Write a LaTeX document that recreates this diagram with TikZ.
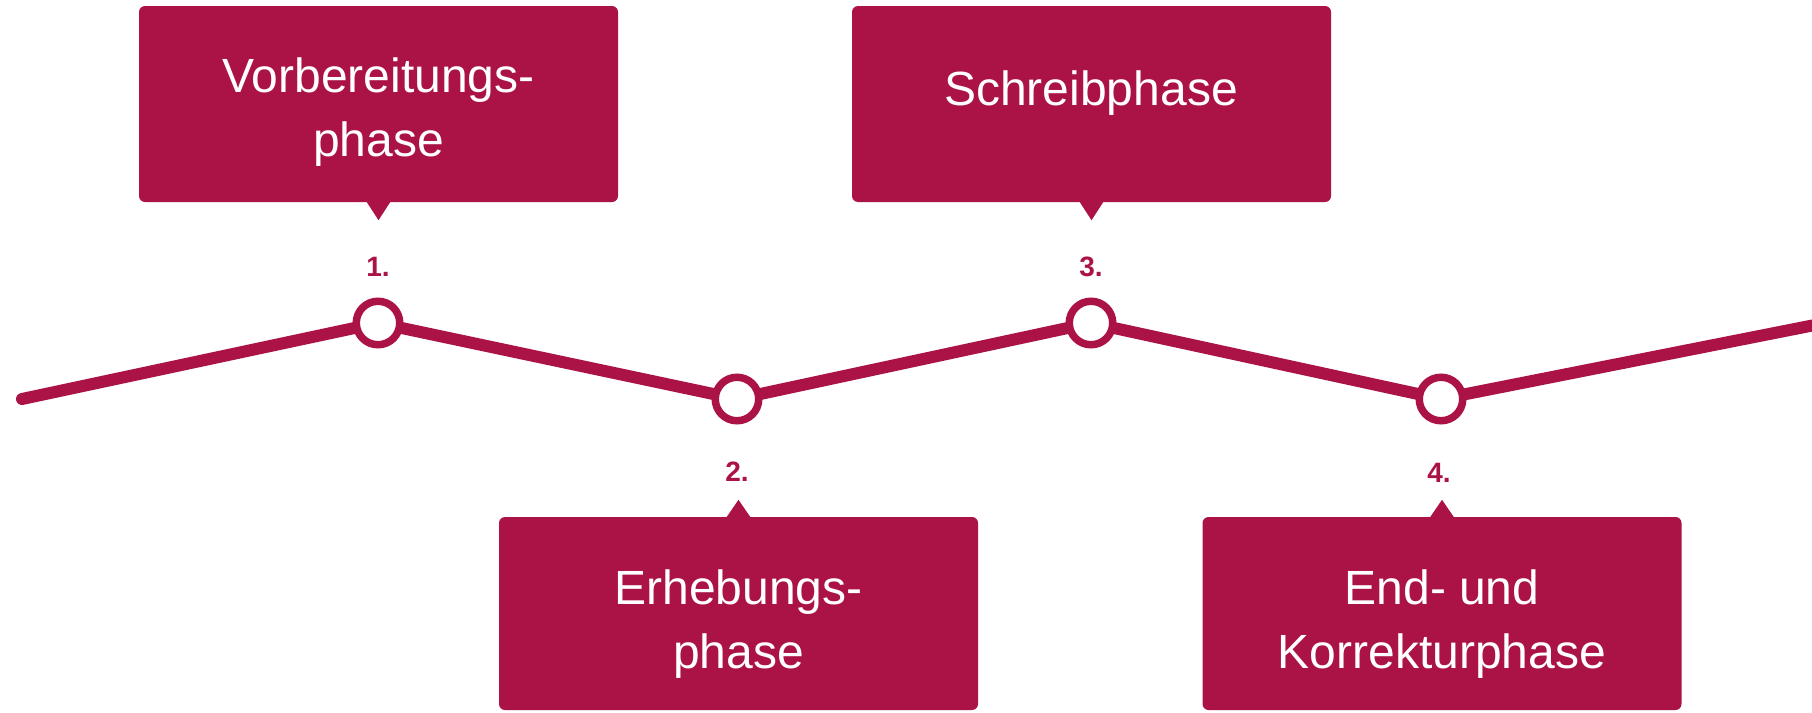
\documentclass[tikz,border=0pt]{standalone}
\usepackage{fontspec}
\setmainfont{Liberation Sans}
\usetikzlibrary{backgrounds}
\definecolor{crim}{RGB}{171,19,70}
\begin{document}
\begin{tikzpicture}[x=1pt,y=-1pt,
  phasebox/.style={fill=crim, rounded corners=6pt, minimum width=479pt, inner sep=0pt},
  phasetext/.style={text=white, font=\fontsize{48}{64}\selectfont, align=center, inner sep=0pt},
  numlabel/.style={text=crim, font=\bfseries\fontsize{28}{30}\selectfont, inner sep=0pt, anchor=base},
  ring/.style={circle, draw=crim, line width=7.5pt, fill=white, minimum size=43.5pt, inner sep=0pt},
  track/.style={draw=crim, line width=12pt, line cap=round, line join=round},
  pointer/.style={fill=crim}]

\useasboundingbox (0,0) rectangle (1812,712);

% boxes
\node[phasebox, minimum height=196pt] (b1) at (378.5,104) {};
\node[phasebox, minimum height=196pt] (b3) at (1091.5,104) {};
\node[phasebox, minimum height=193pt] (b2) at (738.5,613.5) {};
\node[phasebox, minimum height=193pt] (b4) at (1442,613.5) {};

% pointers
\fill[pointer] ([xshift=-12pt,yshift=0.5pt]b1.south) -- ([yshift=-18pt]b1.south) -- ([xshift=12pt,yshift=0.5pt]b1.south) -- cycle;
\fill[pointer] ([xshift=-12pt,yshift=0.5pt]b3.south) -- ([yshift=-18pt]b3.south) -- ([xshift=12pt,yshift=0.5pt]b3.south) -- cycle;
\fill[pointer] ([xshift=-12pt,yshift=-0.5pt]b2.north) -- ([yshift=17pt]b2.north) -- ([xshift=12pt,yshift=-0.5pt]b2.north) -- cycle;
\fill[pointer] ([xshift=-12pt,yshift=-0.5pt]b4.north) -- ([yshift=17pt]b4.north) -- ([xshift=12pt,yshift=-0.5pt]b4.north) -- cycle;

% texts
\node[phasetext] (t1) at (378.5,112.5) {Vorbereitungs-\\phase};
\node[phasetext] (t3) at (1091,93.5) {Schreibphase};
\node[phasetext] (t2) at (738.5,624.5) {Erhebungs-\\phase};
\node[phasetext] (t4) at (1442,624.5) {End- und\\Korrekturphase};

% number labels
\node[numlabel] (l1) at (378,276) {1.};
\node[numlabel] (l2) at (737,481) {2.};
\node[numlabel] (l3) at (1091,276) {3.};
\node[numlabel] (l4) at (1439,482) {4.};

% rings
\node[ring] (n1) at (378,323) {};
\node[ring] (n2) at (737,399) {};
\node[ring] (n3) at (1091,323) {};
\node[ring] (n4) at (1441,399) {};
\coordinate (s) at (22,399);
\coordinate (e) at (1830,322);

\begin{scope}[on background layer]
\draw[track] (s) -- (n1.center) -- (n2.center) -- (n3.center) -- (n4.center) -- (e);
\end{scope}
\end{tikzpicture}
\end{document}
